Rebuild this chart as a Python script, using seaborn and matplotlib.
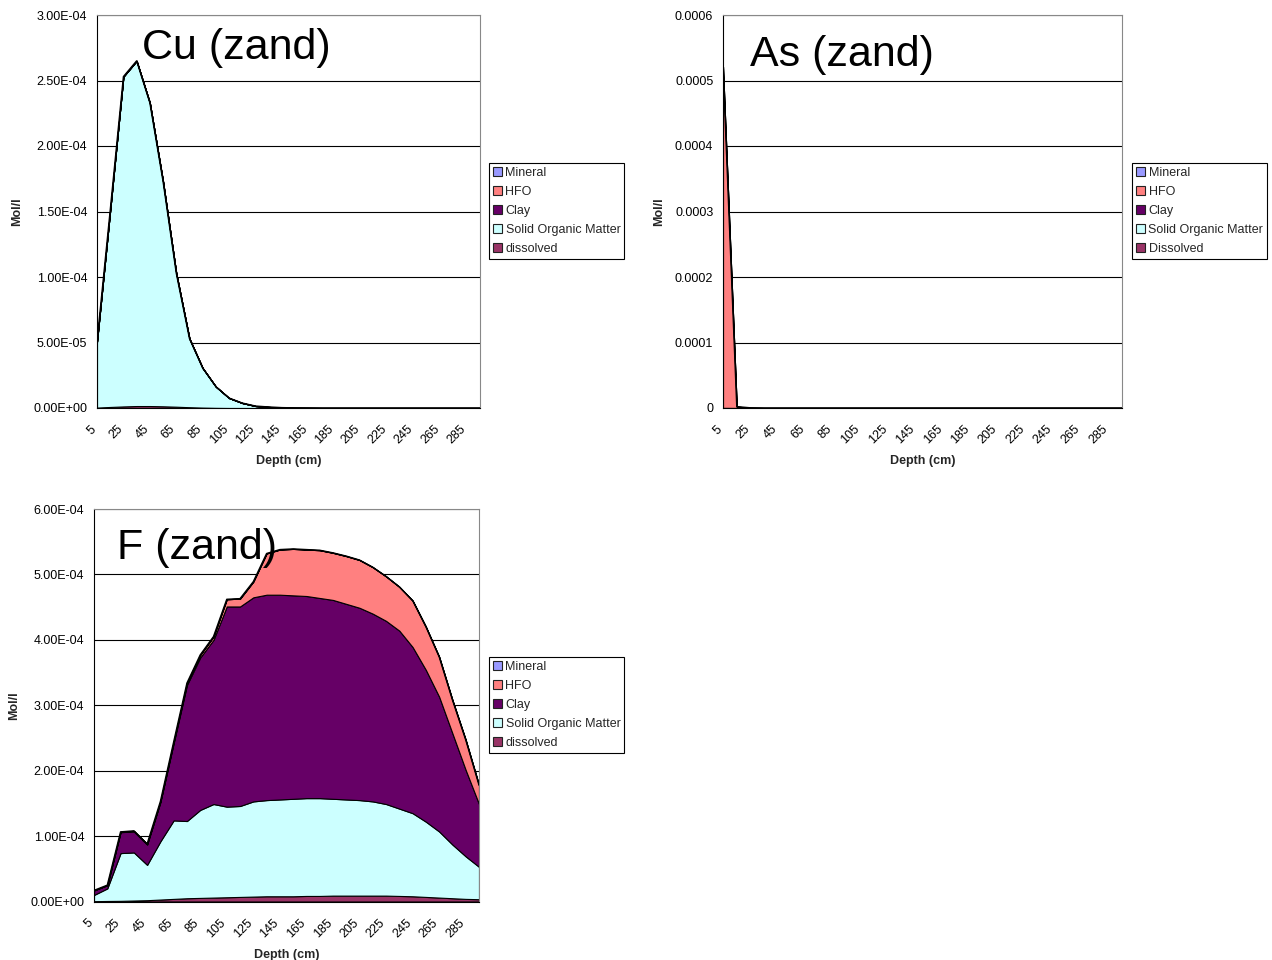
import matplotlib
matplotlib.use("Agg")
import matplotlib.pyplot as plt
from matplotlib.patches import Rectangle
from matplotlib.ticker import FixedLocator, FuncFormatter
from matplotlib.transforms import ScaledTranslation
import numpy as np
import pandas as pd
import seaborn as sns

# ---------------------------------------------------------------- data
# depth of each model layer (cm)
depths = [5, 15, 25, 35, 45, 55, 65, 75, 85, 95,
          105, 115, 125, 135, 145, 155, 165, 175, 185, 195,
          205, 215, 225, 235, 245, 255, 265, 275, 285, 295]

layer_names = ["Mineral", "HFO", "Clay", "Solid Organic Matter", "dissolved"]
layer_colors = ["#9999FF", "#FF8080", "#660066", "#CCFFFF", "#993366"]

# concentrations in micromol/l, per binding phase
cu_mineral = [0] * 30
cu_hfo = [0] * 30
cu_clay = [0] * 30
cu_som = [50.3, 150.2, 251.8, 263.5, 231.5, 171.7, 102.0, 52.4, 30.2, 16.2,
          7.6, 3.8, 1.5, 0.8, 0.3, 0.1, 0.05, 0, 0, 0,
          0, 0, 0, 0, 0, 0, 0, 0, 0, 0]
cu_dissolved = [0.3, 0.8, 1.2, 1.5, 1.5, 1.3, 1.0, 0.6, 0.3, 0.1,
                0, 0, 0, 0, 0, 0, 0, 0, 0, 0,
                0, 0, 0, 0, 0, 0, 0, 0, 0, 0]

as_mineral = [0] * 30
as_hfo = [521.0, 2.0, 0.3, 0, 0, 0, 0, 0, 0, 0,
          0, 0, 0, 0, 0, 0, 0, 0, 0, 0,
          0, 0, 0, 0, 0, 0, 0, 0, 0, 0]
as_clay = [0] * 30
as_som = [0] * 30
as_dissolved = [0.2, 0.1, 0, 0, 0, 0, 0, 0, 0, 0,
                0, 0, 0, 0, 0, 0, 0, 0, 0, 0,
                0, 0, 0, 0, 0, 0, 0, 0, 0, 0]

f_mineral = [0] * 30
f_hfo = [0, 0, 0.5, 1, 1, 1, 2, 3, 4, 5,
         11, 12, 24, 63, 69, 71, 71, 73, 72, 73,
         73, 71, 68, 67, 71, 66, 61, 51, 46, 29]
f_clay = [7, 5, 32, 32, 31, 60, 118, 208, 233, 251,
          306, 305, 312, 314, 313, 311, 309, 306, 304, 299,
          294, 287, 280, 272, 254, 232, 206, 170, 132, 96]
f_som = [9.5, 19.2, 73, 73.5, 54, 89, 120, 118, 134.5, 143,
         138.5, 139, 145.5, 147, 148, 149, 149.5, 149.5, 148, 147,
         146, 144, 140, 133.5, 127, 115, 101, 82, 65, 49.5]
f_dissolved = [0.5, 0.8, 1.0, 1.5, 2, 3, 4, 5, 5.5, 6,
               6.5, 7, 7.5, 8, 8, 8, 8.5, 8.5, 9, 9,
               9, 9, 9, 8.5, 8, 7, 6, 5, 4, 3.5]

UMOL = 1e-6

# ---------------------------------------------------------------- style
sns.set_theme(style="white")
plt.rcParams["font.family"] = ["Liberation Sans", "DejaVu Sans"]
plt.rcParams["axes.linewidth"] = 0.8

W, H = 1272, 960
DPI = 100
fig = plt.figure(figsize=(W / DPI, H / DPI), dpi=DPI)
fig.patch.set_facecolor("white")


def px_axes(left, top, right, bottom):
    return fig.add_axes([left / W, 1 - bottom / H, (right - left) / W, (bottom - top) / H])


def draw_panel(ax, mineral, hfo, clay, som, dissolved, yticks, fmt, title, title_xy):
    frame = pd.DataFrame({
        "depth": depths,
        "dissolved": np.array(dissolved) * UMOL,
        "som": np.array(som) * UMOL,
        "clay": np.array(clay) * UMOL,
        "hfo": np.array(hfo) * UMOL,
        "mineral": np.array(mineral) * UMOL,
    })
    stack = ["dissolved", "som", "clay", "hfo", "mineral"]
    ax.stackplot(frame["depth"], *[frame[c] for c in stack],
                 colors=[layer_colors[4], layer_colors[3], layer_colors[2],
                         layer_colors[1], layer_colors[0]],
                 edgecolor="black", linewidth=0.8, zorder=2)
    frame["total"] = frame[stack].sum(axis=1)
    sns.lineplot(data=frame, x="depth", y="total", color="black",
                 linewidth=1.0, ax=ax, zorder=3, legend=False)

    ax.set_xlim(depths[0], depths[-1])
    ax.set_ylim(yticks[0], yticks[-1])
    ax.set_xticks(depths)
    ax.set_xticklabels([str(d) if i % 2 == 0 else "" for i, d in enumerate(depths)],
                       rotation=45, ha="right", va="top", rotation_mode="anchor")
    ax.yaxis.set_major_locator(FixedLocator(yticks))
    ax.yaxis.set_major_formatter(FuncFormatter(fmt))
    ax.tick_params(axis="both", direction="out", length=4, width=0.8,
                   color="black", labelsize=9, labelcolor="black")
    ax.tick_params(axis="x", pad=7)
    ax.tick_params(axis="y", pad=3)
    shift = ScaledTranslation(-7 / DPI, 0, fig.dpi_scale_trans)
    for lab in ax.get_xticklabels():
        lab.set_transform(lab.get_transform() + shift)
    ax.yaxis.grid(True, color="black", linewidth=0.8)
    ax.xaxis.grid(False)
    ax.set_axisbelow(True)
    for side in ("left", "bottom"):
        ax.spines[side].set_color("black")
        ax.spines[side].set_linewidth(0.8)
    for side in ("top", "right"):
        ax.spines[side].set_color("#888888")
        ax.spines[side].set_linewidth(0.8)
    ax.set_facecolor("white")

    ax.set_xlabel("Depth (cm)", fontsize=9, fontweight="bold")
    ax.set_ylabel("Mol/l", fontsize=9, fontweight="bold")
    fig.text(title_xy[0] / W, 1 - title_xy[1] / H, title, fontsize=31,
             va="baseline", ha="left", color="black")


def add_legend(labels, left, top):
    handles = [Rectangle((0, 0), 1, 1, facecolor=c, edgecolor="#222222", linewidth=0.8)
               for c in layer_colors]
    leg = fig.legend(handles, labels, loc="upper left",
                     bbox_to_anchor=(left / W, 1 - top / H),
                     fontsize=9, frameon=True, fancybox=False, framealpha=1,
                     edgecolor="black", handlelength=0.7, handleheight=0.7,
                     handletextpad=0.3, labelspacing=0.56, borderpad=0.32,
                     borderaxespad=0)
    leg.get_frame().set_linewidth(0.8)
    return leg


sci = lambda v, pos: "{:.2E}".format(v)
plain = lambda v, pos: "0" if v == 0 else "{:.4f}".format(v)

# Cu panel
ax_cu = px_axes(97, 15, 480, 408)
draw_panel(ax_cu, cu_mineral, cu_hfo, cu_clay, cu_som, cu_dissolved,
           [0, 5e-5, 1e-4, 1.5e-4, 2e-4, 2.5e-4, 3e-4], sci, "Cu (zand)", (142, 59))
ax_cu.xaxis.set_label_coords(0.5, -(455 - 408) / 393)
ax_cu.yaxis.set_label_coords(-(97 - 23) / 383, 0.5)
add_legend(layer_names, 489, 163)

# As panel
ax_as = px_axes(723, 15, 1122, 408)
draw_panel(ax_as, as_mineral, as_hfo, as_clay, as_som, as_dissolved,
           [0, 1e-4, 2e-4, 3e-4, 4e-4, 5e-4, 6e-4], plain, "As (zand)", (750, 66))
ax_as.xaxis.set_label_coords(0.5, -(455 - 408) / 393)
ax_as.yaxis.set_label_coords(-(723 - 665) / 399, 0.5)
add_legend(layer_names[:4] + ["Dissolved"], 1132, 163)

# F panel
ax_f = px_axes(94, 509, 479, 901.5)
draw_panel(ax_f, f_mineral, f_hfo, f_clay, f_som, f_dissolved,
           [0, 1e-4, 2e-4, 3e-4, 4e-4, 5e-4, 6e-4], sci, "F (zand)", (117, 559))
ax_f.xaxis.set_label_coords(0.5, -(949 - 901.5) / 392.5)
ax_f.yaxis.set_label_coords(-(94 - 20) / 385, 0.5)
add_legend(layer_names, 489, 657)

fig.savefig("out.png", dpi=DPI, facecolor="white")
